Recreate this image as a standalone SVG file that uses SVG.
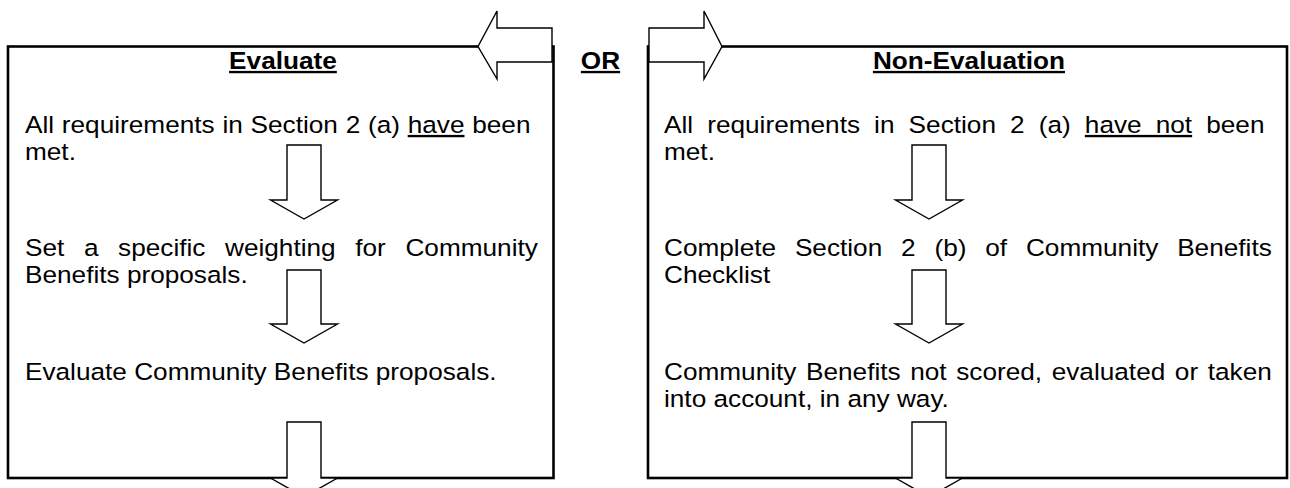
<svg xmlns="http://www.w3.org/2000/svg" width="1290" height="488" viewBox="0 0 1290 488">
<style>
.t { font-family: "Liberation Sans", Arial, sans-serif; font-size: 23.5px; fill: #000; }
.h { font-weight: bold; text-decoration: underline; text-anchor: middle; }
.u { text-decoration: underline; }
.box { fill: #fff; stroke: #000; stroke-width: 2.6; }
.arr { fill: #fff; stroke: #000; stroke-width: 1.4; stroke-linejoin: miter; }
</style>
<rect width="1290" height="488" fill="#fff"/>
<g id="evaluate">
<rect class="box" x="8" y="46.5" width="545.5" height="431.5"/>
<g transform="scale(1.1149 1)">
<text class="t h" x="253.8" y="69">Evaluate</text>
<text class="t" x="22.42" y="133" word-spacing="0.42">All requirements in Section 2 (a) <tspan class="u">have</tspan> been</text>
<text class="t" x="22.42" y="160">met.</text>
<text class="t" x="22.42" y="256" word-spacing="11.06">Set a specific weighting for Community</text>
<text class="t" x="22.42" y="283">Benefits proposals.</text>
<text class="t" x="22.42" y="380">Evaluate Community Benefits proposals.</text>
</g>
</g>
<g id="non-evaluation">
<rect class="box" x="648" y="46.5" width="639" height="431.5"/>
<g transform="scale(1.1149 1)">
<text class="t h" x="869.1" y="69">Non-Evaluation</text>
<text class="t" x="595.57" y="133" word-spacing="6.12">All requirements in Section 2 (a) <tspan class="u">have not</tspan> been</text>
<text class="t" x="595.57" y="160">met.</text>
<text class="t" x="595.57" y="256" word-spacing="10.35">Complete Section 2 (b) of Community Benefits</text>
<text class="t" x="595.57" y="283">Checklist</text>
<text class="t" x="595.57" y="380" word-spacing="2.08">Community Benefits not scored, evaluated or taken</text>
<text class="t" x="595.57" y="407">into account, in any way.</text>
</g>
</g>
<g id="or-label" transform="scale(1.1149 1)">
<text class="t h" x="538.6" y="69">OR</text>
</g>
<g id="connectors">
<polygon class="arr" points="552,28 497,28 497,11 478,46.5 497,79 497,62 552,62"/>
<polygon class="arr" points="649,28 704,28 704,11 722,46.5 704,79 704,62 649,62"/>
<polygon class="arr" points="287,145 321,145 321,200 337.5,200 304,219 270.5,200 287,200"/>
<polygon class="arr" points="287,270 321,270 321,324 337.5,324 304,343 270.5,324 287,324"/>
<polygon class="arr" points="287,422 321,422 321,478 337.5,478 304,497 270.5,478 287,478"/>
<polygon class="arr" points="912,145 946,145 946,200 962.5,200 929,219 895.5,200 912,200"/>
<polygon class="arr" points="912,270 946,270 946,324 962.5,324 929,343 895.5,324 912,324"/>
<polygon class="arr" points="912,422 946,422 946,478 962.5,478 929,497 895.5,478 912,478"/>
</g>
</svg>
